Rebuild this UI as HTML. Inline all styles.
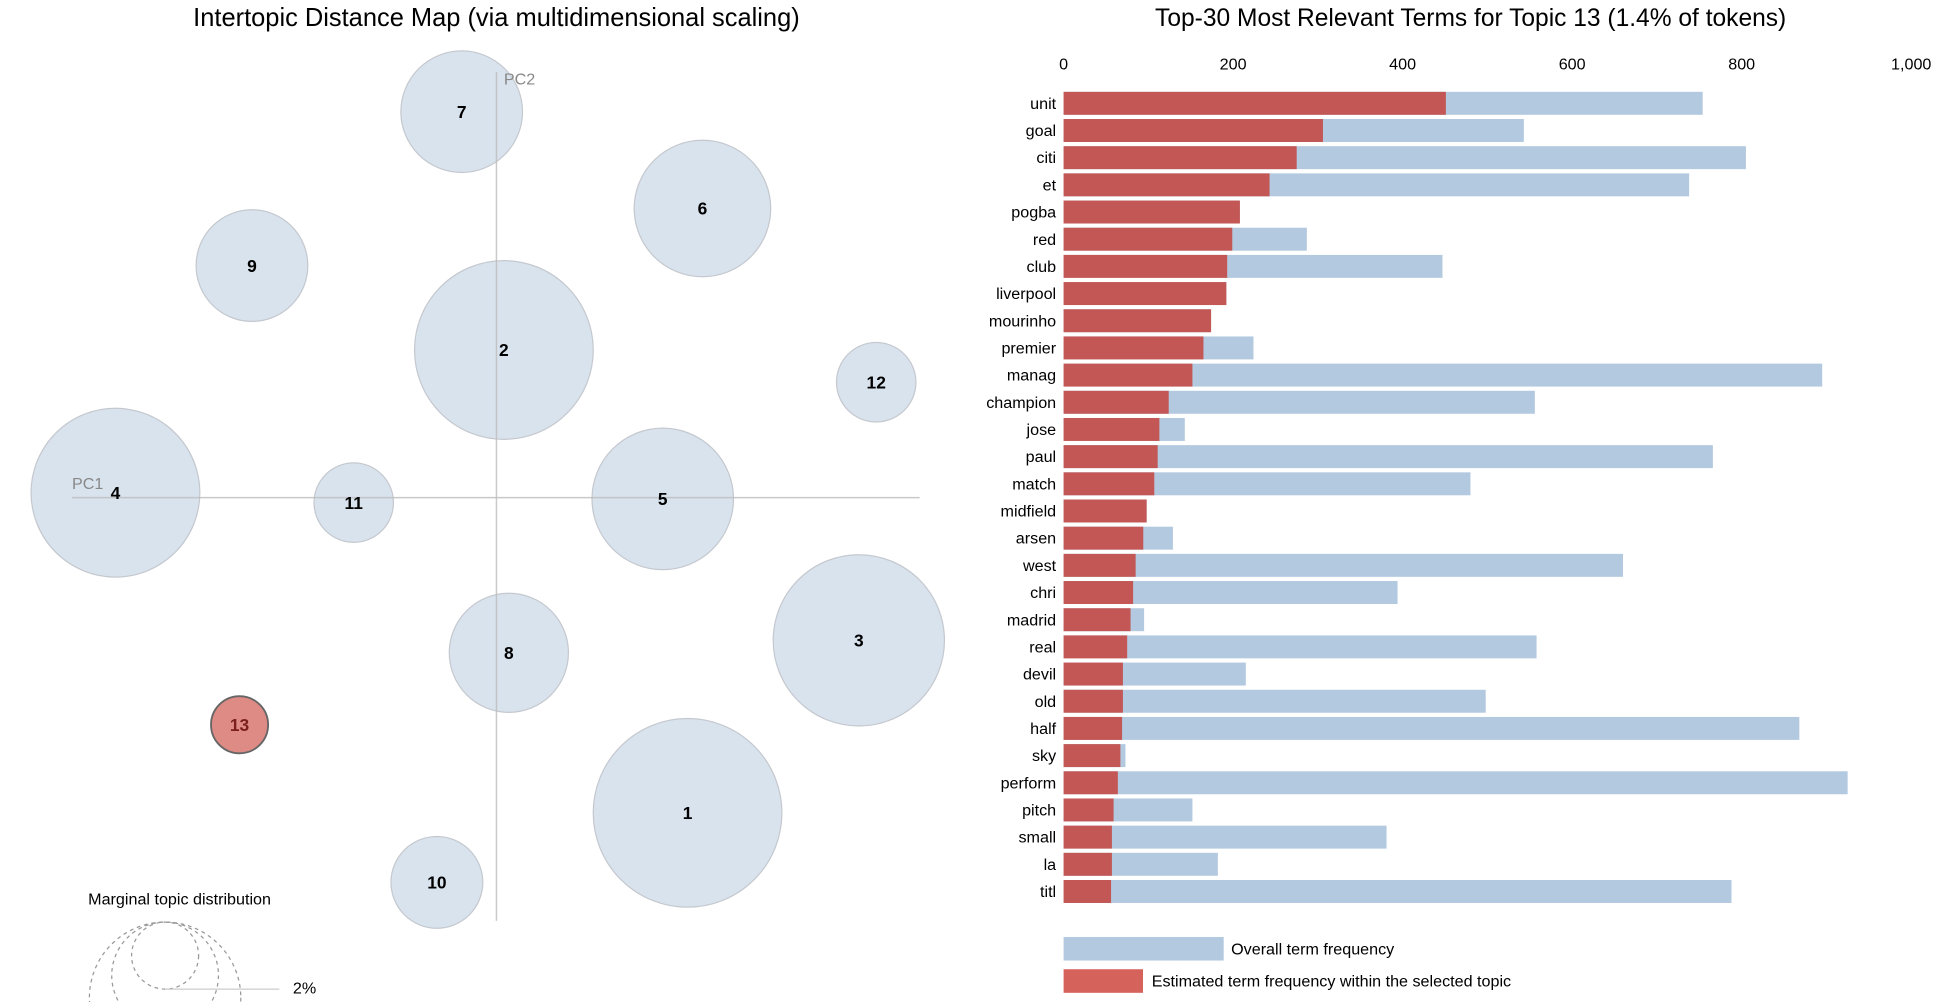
<!DOCTYPE html>
<html><head><meta charset="utf-8"><style>
html,body{margin:0;padding:0;background:#fff;overflow:hidden;width:1946px;height:1002px;}
svg{display:block;font-family:"Liberation Sans",Arial,sans-serif;overflow:hidden;}
</style></head><body>
<svg id="chart" width="1946" height="1002" viewBox="0 0 1568 807.4" xmlns="http://www.w3.org/2000/svg">
<g id="left">
<text x="400" y="21" font-size="20.5" text-anchor="middle" fill="#000">Intertopic Distance Map (via multidimensional scaling)</text>
<g id="topics"></g>
<line x1="400" y1="58" x2="400" y2="742" stroke="#bbb" stroke-opacity="0.8" stroke-width="1.2"/>
<line x1="58" y1="401" x2="741" y2="401" stroke="#bbb" stroke-opacity="0.8" stroke-width="1.2"/>
<text x="406" y="68" font-size="13" fill="#888">PC2</text>
<text x="58" y="394" font-size="13" fill="#888">PC1</text>
<g id="topic-labels"></g>
<text x="71" y="729" font-size="13" fill="#000">Marginal topic distribution</text>
<circle cx="133" cy="804" r="61" fill="none" stroke="#999" stroke-dasharray="3,3"/>
<circle cx="133" cy="786" r="43" fill="none" stroke="#999" stroke-dasharray="3,3"/>
<circle cx="133" cy="770" r="27" fill="none" stroke="#999" stroke-dasharray="3,3"/>
<line x1="133" y1="797" x2="225" y2="797" stroke="#ccc"/>
<text x="236" y="797" font-size="13" dominant-baseline="middle" fill="#000">2%</text>
</g>
<g id="right">
<text x="1185" y="21" font-size="19.8" text-anchor="middle" fill="#000">Top-30 Most Relevant Terms for Topic 13 (1.4% of tokens)</text>
<g id="ticks"></g>
<g id="bars"></g>
<rect x="857" y="755" width="129" height="19" fill="#b3c9e0"/>
<text x="992" y="769" font-size="13" fill="#000">Overall term frequency</text>
<rect x="857" y="781" width="64" height="19" fill="#d6625c"/>
<text x="928" y="795" font-size="13" fill="#000">Estimated term frequency within the selected topic</text>
</g>
</svg>
<script>
const topicIds=[7,6,9,2,12,4,11,5,3,8,13,1,10];
const topicX=[372,566,203,406,706,93,285,534,692,410,193,554,352];
const topicY=[90,168,214,282,308,397,405,402,516,526,584,655,711];
const topicR=[49,55,45,72,32,68,32,57,69,48,23,76,37];
const selectedTopic=13;
const terms=["unit","goal","citi","et","pogba","red","club","liverpool","mourinho","premier","manag","champion","jose","paul","match","midfield","arsen","west","chri","madrid","real","devil","old","half","sky","perform","pitch","small","la","titl"];
const overall=[754,543,805,738,208,287,447,192,174,224,895,556,143,766,480,98,129,660,394,95,558,215,498,868,73,925,152,381,182,788];
const estimated=[451,306,275,243,208,199,193,192,174,165,152,124,113,111,107,98,94,85,82,79,75,70,70,69,67,64,59,57,57,56];
const tickVals=[0,200,400,600,800,1000];
const tickLabels=["0","200","400","600","800","1,000"];
const NS="http://www.w3.org/2000/svg";
function mk(t,a,p){const e=document.createElementNS(NS,t);for(const k in a)e.setAttribute(k,a[k]);p.appendChild(e);return e;}
const tg=document.getElementById('topics');
const tl=document.getElementById('topic-labels');
topicIds.forEach((id,i)=>{
 const sel=id===selectedTopic;
 const c=mk('circle',{cx:topicX[i],cy:topicY[i],r:topicR[i],fill:sel?'#de8a85':'#d9e3ee',stroke:sel?'#666':'#c5c9cf','stroke-width':sel?1.5:1},sel?tl:tg);
 
 
 const t=mk('text',{x:topicX[i],y:topicY[i]+5,'font-size':14,'font-weight':'bold','text-anchor':'middle',fill:sel?'#7a1f1c':'#000'},tl);
 t.textContent=id;
 
 
});
const x0=857,x1=1540,maxV=1000;
const xs=v=>x0+(x1-x0)*v/maxV;
const y0=74,step=21.9,bh=18.5;
const tk=document.getElementById('ticks');
tickVals.forEach((v,i)=>{
 const t=mk('text',{x:xs(v),y:56,'font-size':13,'text-anchor':'middle',fill:'#000'},tk);
 t.textContent=tickLabels[i];
 
 
});
const bg=document.getElementById('bars');
terms.forEach((term,i)=>{
 const y=y0+i*step;
 const b=mk('rect',{x:x0,y:y,width:xs(overall[i])-x0,height:bh,fill:'#b3c9e0'},bg);
 
 
 const r=mk('rect',{x:x0,y:y,width:xs(estimated[i])-x0,height:bh,fill:'#c35755'},bg);
 
 
 const l=mk('text',{x:851,y:y+bh/2+4.5,'font-size':13,'text-anchor':'end',fill:'#000'},bg);
 l.textContent=term;
 
 
});
</script>
</body></html>
